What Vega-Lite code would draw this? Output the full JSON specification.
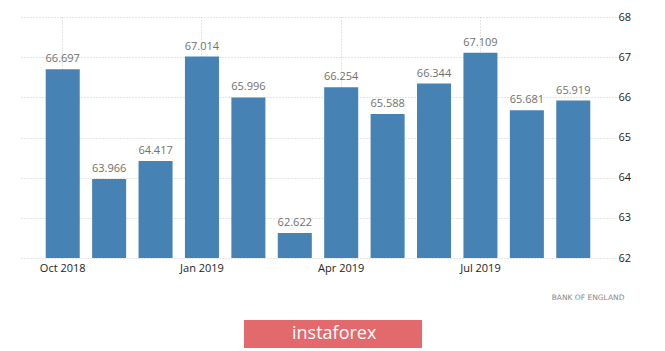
{
  "$schema": "https://vega.github.io/schema/vega-lite/v6.json",
  "width": 596,
  "height": 241,
  "autosize": {"type": "none"},
  "padding": {"left": 20, "top": 17, "right": 49, "bottom": 93},
  "background": "white",
  "config": {"view": {"stroke": null}, "font": "Open Sans"},
  "data": {
    "values": [
      {"month": "Oct 2018", "value": 66.697},
      {"month": "Nov 2018", "value": 63.966},
      {"month": "Dec 2018", "value": 64.417},
      {"month": "Jan 2019", "value": 67.014},
      {"month": "Feb 2019", "value": 65.996},
      {"month": "Mar 2019", "value": 62.622},
      {"month": "Apr 2019", "value": 66.254},
      {"month": "May 2019", "value": 65.588},
      {"month": "Jun 2019", "value": 66.344},
      {"month": "Jul 2019", "value": 67.109},
      {"month": "Aug 2019", "value": 65.681},
      {"month": "Sep 2019", "value": 65.919}
    ]
  },
  "encoding": {
    "x": {
      "field": "month",
      "type": "ordinal",
      "sort": null,
      "scale": {"paddingInner": 0.267, "paddingOuter": 0.554},
      "axis": {
        "values": ["Oct 2018", "Jan 2019", "Apr 2019", "Jul 2019"],
        "bandPosition": 0.5,
        "labelAngle": 0,
        "domain": false,
        "ticks": false,
        "labelPadding": 4,
        "labelFontSize": 11,
        "labelColor": "#222",
        "labelFont": "Open Sans",
        "grid": true,
        "gridDash": [1, 2],
        "gridColor": "#c8c8c8",
        "title": "BANK OF ENGLAND",
        "titleFont": "DejaVu Sans",
        "titleFontSize": 7.5,
        "titleFontWeight": "normal",
        "titleColor": "#888",
        "titleAnchor": "end",
        "titleAlign": "right",
        "titleBaseline": "alphabetic",
        "titleX": 604,
        "titleY": 41
      }
    },
    "y": {
      "field": "value",
      "type": "quantitative",
      "scale": {"domain": [62, 68], "zero": false, "nice": false},
      "axis": {
        "orient": "right",
        "values": [62, 63, 64, 65, 66, 67, 68],
        "domain": false,
        "ticks": false,
        "labelPadding": 2,
        "labelFontSize": 11,
        "labelColor": "#222",
        "labelFont": "Open Sans",
        "gridDash": [1, 2],
        "gridColor": "#c8c8c8",
        "title": null
      }
    }
  },
  "layer": [
    {
      "mark": {"type": "bar", "clip": true},
      "encoding": {
        "color": {
          "datum": "instaforex",
          "scale": {"range": ["#4682b4"]},
          "legend": {
            "orient": "none",
            "legendX": 224,
            "legendY": 303,
            "title": "\u00a0",
            "titleOrient": "right",
            "titlePadding": 41,
            "titleFontSize": 10,
            "fillColor": "#e36a6c",
            "padding": 5,
            "cornerRadius": 0,
            "symbolSize": 4,
            "symbolOpacity": 0,
            "symbolStrokeWidth": 0,
            "labelOffset": 25,
            "labelFont": "Open Sans",
            "labelFontSize": 18,
            "labelColor": "white"
          }
        }
      }
    },
    {
      "mark": {
        "type": "text",
        "baseline": "bottom",
        "dy": -5,
        "fontSize": 11,
        "color": "#707070",
        "font": "Open Sans"
      },
      "encoding": {"text": {"field": "value", "type": "quantitative", "format": ".3f"}}
    }
  ]
}
